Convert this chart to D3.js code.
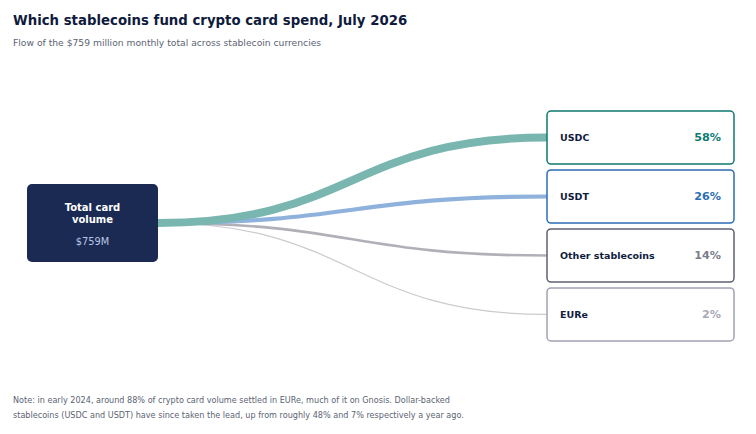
<!DOCTYPE html>
<html>
<head>
<meta charset="utf-8">
<script src="https://cdn.jsdelivr.net/npm/d3@7"></script>
<style>
  html, body { margin: 0; padding: 0; background: #fff; }
  body { font-family: "DejaVu Sans", sans-serif; }
</style>
</head>
<body>
<div id="chart"></div>
<script>
// Daten
const sourceLabel = ['Total card', 'volume'];
const sourceValue = '$759M';
const categories = ['USDC', 'USDT', 'Other stablecoins', 'EURe'];
const shares = [58, 26, 14, 2];
const boxColors = ['#0f7a72', '#2c6db4', '#5f6170', '#a3a3b3'];
const pctColors = ['#0f7a72', '#2c6db4', '#7c7c8a', '#a8a8b6'];
const linkColors = ['#79b6b0', '#8fb2dc', '#b0b0b9', '#cbcbd0'];

const W = 756, H = 434;

const svg = d3.select('#chart').append('svg')
  .attr('width', W).attr('height', H)
  .attr('viewBox', `0 0 ${W} ${H}`);

// Titel
svg.append('text')
  .attr('x', 13).attr('y', 25)
  .attr('font-size', 13.3).attr('font-weight', 700)
  .attr('fill', '#0f1b3d')
  .text('Which stablecoins fund crypto card spend, July 2026');

svg.append('text')
  .attr('x', 13).attr('y', 46)
  .attr('font-size', 9.2)
  .attr('fill', '#5b6372')
  .text('Flow of the $759 million monthly total across stablecoin currencies');

// Quelle (links)
const src = { x: 27, y: 184, w: 131, h: 78 };
const srcY = src.y + src.h / 2;

// Ziele (rechts)
const tgt = { x: 547, w: 187 };
const y = d3.scaleBand()
  .domain(categories)
  .range([111, 341])
  .paddingInner(0.1);

const widthScale = d3.scaleLinear().domain([0, 58]).range([1, 8]);

const link = d3.linkHorizontal()
  .source(() => [src.x + src.w, srcY])
  .target(d => [tgt.x, y(d.name) + y.bandwidth() / 2]);

const data = categories.map((name, i) => ({ name, share: shares[i], i }));

// Links zuerst (hinter den Boxen), dünnste zuerst
svg.append('g').attr('class', 'links')
  .selectAll('path')
  .data(data.slice().reverse())
  .join('path')
  .attr('d', link)
  .attr('fill', 'none')
  .attr('stroke', d => linkColors[d.i])
  .attr('stroke-width', d => widthScale(d.share));

// Quellbox
const gs = svg.append('g');
gs.append('rect')
  .attr('x', src.x).attr('y', src.y)
  .attr('width', src.w).attr('height', src.h)
  .attr('rx', 5)
  .attr('fill', '#1b2a52');
gs.selectAll('text.src-label')
  .data(sourceLabel)
  .join('text')
  .attr('class', 'src-label')
  .attr('x', src.x + src.w / 2)
  .attr('y', (d, i) => 211 + i * 11.5)
  .attr('text-anchor', 'middle')
  .attr('font-size', 10).attr('font-weight', 700)
  .attr('fill', '#ffffff')
  .text(d => d);
gs.append('text')
  .attr('x', src.x + src.w / 2).attr('y', 244.5)
  .attr('text-anchor', 'middle')
  .attr('font-size', 9.8)
  .attr('fill', '#b8c6e4')
  .text(sourceValue);

// Zielboxen
const gt = svg.append('g').attr('class', 'targets')
  .selectAll('g')
  .data(data)
  .join('g')
  .attr('transform', d => `translate(${tgt.x},${y(d.name)})`);

gt.append('rect')
  .attr('x', 0).attr('y', 0)
  .attr('width', tgt.w).attr('height', y.bandwidth())
  .attr('rx', 4)
  .attr('fill', '#ffffff')
  .attr('stroke', d => boxColors[d.i])
  .attr('stroke-width', 1.5);

gt.append('text')
  .attr('x', 13).attr('y', y.bandwidth() / 2)
  .attr('dy', '0.35em')
  .attr('font-size', 9.5).attr('font-weight', 700)
  .attr('fill', '#0f1b3d')
  .text(d => d.name);

gt.append('text')
  .attr('x', tgt.w - 13).attr('y', y.bandwidth() / 2)
  .attr('dy', '0.35em')
  .attr('text-anchor', 'end')
  .attr('font-size', 11.2).attr('font-weight', 700)
  .attr('fill', d => pctColors[d.i])
  .text(d => `${d.share}%`);

// Fußnote
const notes = [
  'Note: in early 2024, around 88% of crypto card volume settled in EURe, much of it on Gnosis. Dollar-backed',
  'stablecoins (USDC and USDT) have since taken the lead, up from roughly 48% and 7% respectively a year ago.'
];
svg.append('g').selectAll('text')
  .data(notes)
  .join('text')
  .attr('x', 13)
  .attr('y', (d, i) => 403 + i * 15)
  .attr('font-size', 8.1)
  .attr('fill', '#5b6372')
  .text(d => d);
</script>
</body>
</html>
